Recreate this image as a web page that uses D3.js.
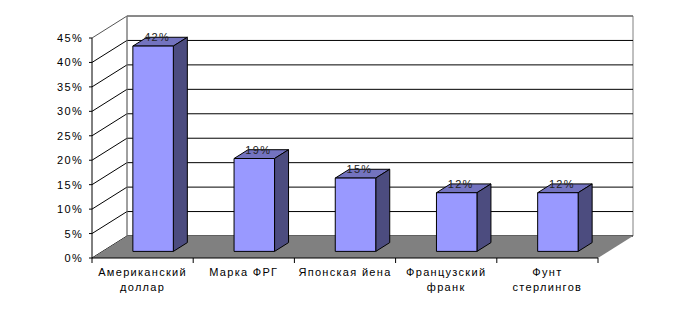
<!DOCTYPE html>
<html>
<head>
<meta charset="utf-8">
<script src="https://cdn.jsdelivr.net/npm/d3@7.9.0/dist/d3.min.js"></script>
<style>
  body { margin: 0; background: #fff; }
  svg text { font-family: "Liberation Sans", Arial, sans-serif; font-size: 11px; letter-spacing: 1.3px; }
</style>
</head>
<body>
<svg id="chart" width="681" height="313"></svg>
<script>
// data
const categories = ['Американский доллар', 'Марка ФРГ', 'Японская йена', 'Французский франк', 'Фунт стерлингов'];
const labelLines = [['Американский', 'доллар'], ['Марка ФРГ'], ['Японская йена'], ['Французский', 'франк'], ['Фунт', 'стерлингов']];
const values = [0.42, 0.19, 0.15, 0.12, 0.12];
const valueLabels = ['42%', '19%', '15%', '12%', '12%'];
const yTicks = [0, 0.05, 0.10, 0.15, 0.20, 0.25, 0.30, 0.35, 0.40, 0.45];

const svg = d3.select('#chart');

// front plane scales
const x = d3.scaleBand().domain(categories).range([92, 598]).padding(0);
const y = d3.scaleLinear().domain([0, 0.45]).range([258, 38]);

// oblique depth offset of the 3d box
const DX = 35, DY = -22;
const p = (px, py, d) => [px + d * DX, py + d * DY];
const poly = pts => pts.map(q => q.join(',')).join(' ');

// back wall
svg.append('polygon')
  .attr('points', poly([p(92, y(0.45), 1), p(598, y(0.45), 1), p(598, y(0), 1), p(92, y(0), 1)]))
  .attr('fill', '#fff').attr('stroke', '#808080');

// gridlines: left wall diagonal + back wall horizontal
yTicks.forEach(t => {
  const a = p(92, y(t), 0), b = p(92, y(t), 1), c = p(598, y(t), 1);
  svg.append('polyline')
    .attr('points', poly([a, b, c]))
    .attr('fill', 'none')
    .attr('stroke', t === 0.45 ? '#555' : '#000')
    .attr('stroke-width', 1);
});

// left wall back edge
svg.append('line')
  .attr('x1', p(92, 0, 1)[0]).attr('x2', p(92, 0, 1)[0])
  .attr('y1', p(0, y(0.45), 1)[1]).attr('y2', p(0, y(0), 1)[1])
  .attr('stroke', '#808080');

// floor
svg.append('polygon')
  .attr('points', poly([p(92, y(0), 0), p(598, y(0), 0), p(598, y(0), 1), p(92, y(0), 1)]))
  .attr('fill', '#808080');

// bars
const bw = x.bandwidth() * 0.4;
const d0 = 0.3, d1 = 0.7;
const bars = svg.append('g').selectAll('g')
  .data(categories.map((c, i) => ({ c, v: values[i], label: valueLabels[i] })))
  .join('g');

bars.each(function (d) {
  const g = d3.select(this);
  const xl = x(d.c) + (x.bandwidth() - bw) / 2, xr = xl + bw;
  const yt = y(d.v), yb = y(0);
  // top
  g.append('polygon')
    .attr('points', poly([p(xl, yt, d0), p(xr, yt, d0), p(xr, yt, d1), p(xl, yt, d1)]))
    .attr('fill', '#7373BF').attr('stroke', '#000');
  // side
  g.append('polygon')
    .attr('points', poly([p(xr, yt, d0), p(xr, yt, d1), p(xr, yb, d1), p(xr, yb, d0)]))
    .attr('fill', '#4C4C7F').attr('stroke', '#000');
  // front
  g.append('polygon')
    .attr('points', poly([p(xl, yt, d0), p(xr, yt, d0), p(xr, yb, d0), p(xl, yb, d0)]))
    .attr('fill', '#9999FF').attr('stroke', '#000');
  // value label
  const [lx, ly] = p(xl + bw / 2 + 4, yt, d0);
  g.append('text')
    .attr('x', lx).attr('y', ly - 5)
    .attr('text-anchor', 'middle')
    .attr('fill', '#222')
    .text(d.label);
});

// value axis
svg.append('line')
  .attr('x1', 92).attr('x2', 92).attr('y1', y(0.45)).attr('y2', y(0))
  .attr('stroke', '#000');
svg.append('g').selectAll('line').data(yTicks).join('line')
  .attr('x1', 89).attr('x2', 92)
  .attr('y1', d => y(d)).attr('y2', d => y(d))
  .attr('stroke', '#000');
svg.append('g').selectAll('text').data(yTicks).join('text')
  .attr('x', 83).attr('y', d => y(d) + 4)
  .attr('text-anchor', 'end')
  .attr('fill', '#000')
  .text(d => d3.format('.0%')(d));

// category axis
svg.append('line')
  .attr('x1', 92).attr('x2', 598).attr('y1', y(0)).attr('y2', y(0))
  .attr('stroke', '#000');
const edges = categories.map(c => x(c)).concat([598]);
svg.append('g').selectAll('line').data(edges).join('line')
  .attr('x1', d => d).attr('x2', d => d)
  .attr('y1', y(0)).attr('y2', y(0) + 5)
  .attr('stroke', '#000');

const catLabels = svg.append('g').selectAll('text')
  .data(categories.map((c, i) => ({ c, lines: labelLines[i] })))
  .join('text')
  .attr('text-anchor', 'middle')
  .attr('fill', '#000');
catLabels.each(function (d) {
  const t = d3.select(this);
  d.lines.forEach((s, k) => {
    t.append('tspan')
      .attr('x', x(d.c) + x.bandwidth() / 2)
      .attr('y', 276 + k * 15)
      .text(s);
  });
});
</script>
</body>
</html>
